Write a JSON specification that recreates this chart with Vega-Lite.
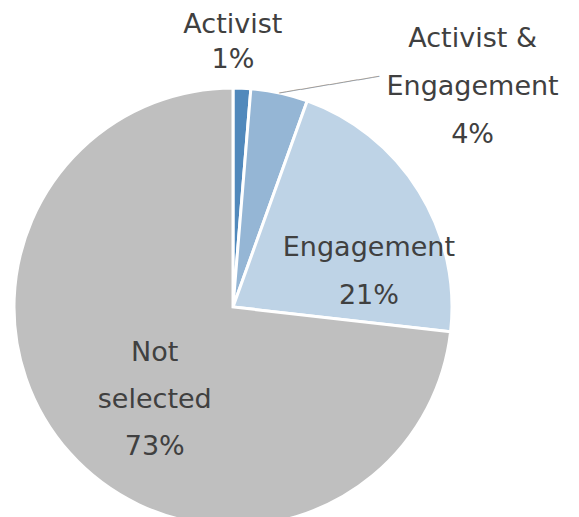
{
  "$schema": "https://vega.github.io/schema/vega-lite/v6.json",
  "width": 466,
  "height": 614,
  "padding": 0,
  "autosize": {"type": "pad"},
  "background": "white",
  "config": {"view": {"stroke": null}},
  "data": {
    "values": [
      {"category": "Activist", "value": 1.3, "label": "Activist\n1%"},
      {"category": "Activist & Engagement", "value": 4.2, "label": "Activist &\nEngagement\n4%"},
      {"category": "Engagement", "value": 21.3, "label": "Engagement\n21%"},
      {"category": "Not selected", "value": 73.2, "label": "Not\nselected\n73%"}
    ]
  },
  "encoding": {
    "theta": {"field": "value", "type": "quantitative", "stack": true},
    "detail": {"field": "category", "type": "nominal"}
  },
  "layer": [
    {
      "mark": {"type": "arc", "radius": 219, "stroke": "white", "strokeWidth": 3},
      "encoding": {
        "color": {
          "field": "category",
          "type": "nominal",
          "scale": {
            "domain": ["Activist", "Activist & Engagement", "Engagement", "Not selected"],
            "range": ["#5189bc", "#95b6d5", "#bed3e6", "#bfbfbf"]
          },
          "legend": null
        }
      }
    },
    {
      "mark": {"type": "text", "radius": 219, "align": "left", "baseline": "middle", "angle": -9.4, "font": "DejaVu Sans Mono", "fontSize": 12, "color": "#a0a0a0"},
      "encoding": {
        "text": {"condition": {"test": "datum.category === 'Activist & Engagement'", "value": "──────────────"}, "value": ""}
      }
    },
    {
      "mark": {"type": "text", "radius": 267, "dx": -11, "dy": -15, "align": "center", "baseline": "middle", "lineBreak": "\n", "lineHeight": 35, "font": "DejaVu Sans", "fontSize": 27, "color": "#404040"},
      "encoding": {
        "text": {"condition": {"test": "datum.category === 'Activist'", "field": "label"}, "value": ""}
      }
    },
    {
      "mark": {"type": "text", "radius": 300, "dx": 176, "dy": 25, "align": "center", "baseline": "middle", "lineBreak": "\n", "lineHeight": 48, "font": "DejaVu Sans", "fontSize": 27, "color": "#404040"},
      "encoding": {
        "text": {"condition": {"test": "datum.category === 'Activist & Engagement'", "field": "label"}, "value": ""}
      }
    },
    {
      "mark": {"type": "text", "radius": 140, "dx": 17, "dy": 15, "align": "center", "baseline": "middle", "lineBreak": "\n", "lineHeight": 48, "font": "DejaVu Sans", "fontSize": 27, "color": "#404040"},
      "encoding": {
        "text": {"condition": {"test": "datum.category === 'Engagement'", "field": "label"}, "value": ""}
      }
    },
    {
      "mark": {"type": "text", "radius": 121, "dx": 12, "dy": -35, "align": "center", "baseline": "middle", "lineBreak": "\n", "lineHeight": 47, "font": "DejaVu Sans", "fontSize": 27, "color": "#404040"},
      "encoding": {
        "text": {"condition": {"test": "datum.category === 'Not selected'", "field": "label"}, "value": ""}
      }
    }
  ]
}
